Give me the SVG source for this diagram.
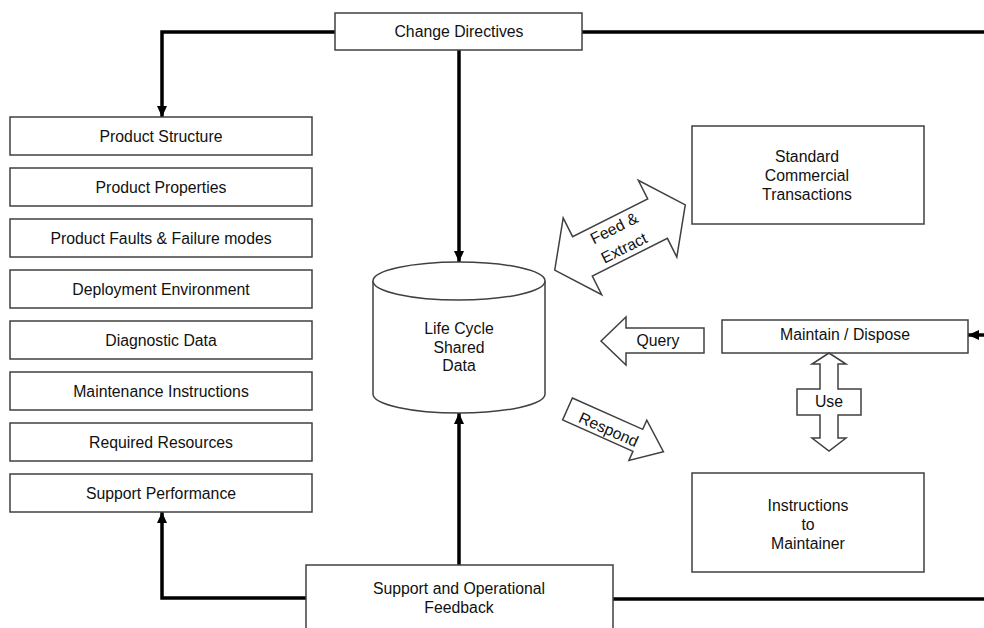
<svg xmlns="http://www.w3.org/2000/svg" width="984" height="628" viewBox="0 0 984 628">
  <defs>
    <marker id="head" markerUnits="userSpaceOnUse" markerWidth="11" markerHeight="10" refX="11" refY="5" orient="auto">
      <path d="M0,0 L11,5 L0,10 z" fill="#000"/>
    </marker>
    <style>
      .box { fill: #fff; stroke: #404040; stroke-width: 1.5; }
      .shape { fill: #fff; stroke: #404040; stroke-width: 1.5; stroke-linejoin: miter; }
      .txt { font-family: "Liberation Sans", Arial, sans-serif; font-size: 15.8px; fill: #111; text-anchor: middle; }
      .wire { fill: none; stroke: #000; stroke-width: 3.5; }
    </style>
  </defs>

  <rect width="984" height="628" fill="#fff"/>

  <!-- connectors -->
  <g id="connectors">
    <path class="wire" d="M335,32 H162 V117" marker-end="url(#head)"/>
    <path class="wire" d="M582,32 H984"/>
    <path class="wire" d="M459,50 V262" marker-end="url(#head)"/>
    <path class="wire" d="M459,565 V413" marker-end="url(#head)"/>
    <path class="wire" d="M306,598 H162 V512" marker-end="url(#head)"/>
    <path class="wire" d="M613,599 H984"/>
    <path class="wire" d="M984,335 H968" marker-end="url(#head)"/>
  </g>

  <!-- top source -->
  <g id="change-directives">
    <rect class="box" x="335" y="13" width="247" height="37"/>
    <text class="txt" x="459" y="37">Change Directives</text>
  </g>

  <!-- left-hand information stack -->
  <g id="product-structure">
    <rect class="box" x="10" y="117" width="302" height="38"/>
    <text class="txt" x="161" y="142">Product Structure</text>
  </g>
  <g id="product-properties">
    <rect class="box" x="10" y="168" width="302" height="38"/>
    <text class="txt" x="161" y="193">Product Properties</text>
  </g>
  <g id="product-faults">
    <rect class="box" x="10" y="219" width="302" height="38"/>
    <text class="txt" x="161" y="244">Product Faults &amp; Failure modes</text>
  </g>
  <g id="deployment-environment">
    <rect class="box" x="10" y="270" width="302" height="38"/>
    <text class="txt" x="161" y="295">Deployment Environment</text>
  </g>
  <g id="diagnostic-data">
    <rect class="box" x="10" y="321" width="302" height="38"/>
    <text class="txt" x="161" y="346">Diagnostic Data</text>
  </g>
  <g id="maintenance-instructions">
    <rect class="box" x="10" y="372" width="302" height="38"/>
    <text class="txt" x="161" y="397">Maintenance Instructions</text>
  </g>
  <g id="required-resources">
    <rect class="box" x="10" y="423" width="302" height="38"/>
    <text class="txt" x="161" y="448">Required Resources</text>
  </g>
  <g id="support-performance">
    <rect class="box" x="10" y="474" width="302" height="38"/>
    <text class="txt" x="161" y="499">Support Performance</text>
  </g>

  <!-- shared data store -->
  <g id="life-cycle-shared-data">
    <path class="shape" d="M373,281 V394 A86,19 0 0 0 545,394 V281"/>
    <ellipse class="shape" cx="459" cy="281" rx="86" ry="19"/>
    <text class="txt" x="459" y="334">Life Cycle</text>
    <text class="txt" x="459" y="352.5">Shared</text>
    <text class="txt" x="459" y="371">Data</text>
  </g>

  <!-- bottom source -->
  <g id="support-feedback">
    <rect class="box" x="306" y="565" width="307" height="80"/>
    <text class="txt" x="459" y="594">Support and Operational</text>
    <text class="txt" x="459" y="613">Feedback</text>
  </g>

  <!-- right-hand side -->
  <g id="standard-commercial-transactions">
    <rect class="box" x="692" y="126" width="232" height="98"/>
    <text class="txt" x="807" y="162">Standard</text>
    <text class="txt" x="807" y="181">Commercial</text>
    <text class="txt" x="807" y="200">Transactions</text>
  </g>
  <g id="maintain-dispose">
    <rect class="box" x="722" y="320" width="246" height="33"/>
    <text class="txt" x="845" y="340">Maintain / Dispose</text>
  </g>
  <g id="instructions-to-maintainer">
    <rect class="box" x="692" y="473" width="232" height="99"/>
    <text class="txt" x="808" y="511">Instructions</text>
    <text class="txt" x="808" y="530">to</text>
    <text class="txt" x="808" y="549">Maintainer</text>
  </g>

  <!-- block arrows -->
  <g id="feed-extract" transform="translate(620,237.5) rotate(-26.6)">
    <polygon class="shape" points="-73,0 -42,-43 -42,-22 42,-22 42,-43 73,0 42,43 42,22 -42,22 -42,43"/>
    <text class="txt" x="-1" y="-5.5">Feed &amp;</text>
    <text class="txt" x="-1" y="16.5">Extract</text>
  </g>
  <g id="query">
    <polygon class="shape" points="601,341 626,317 626,328 704,328 704,353 626,353 626,365"/>
    <text class="txt" x="658" y="346">Query</text>
  </g>
  <g id="respond" transform="translate(567.5,409) rotate(24)">
    <polygon class="shape" points="0,-12 77,-12 77,-22 105,0 77,22 77,12 0,12"/>
    <text class="txt" x="46" y="7.5">Respond</text>
  </g>
  <g id="use">
    <polygon class="shape" points="829,353 846,364 838,364 838,389 861,389 861,415 838,415 838,438 846,438 829,451 812,438 820,438 820,415 797,415 797,389 820,389 820,364 812,364"/>
    <text class="txt" x="829" y="407">Use</text>
  </g>
</svg>
